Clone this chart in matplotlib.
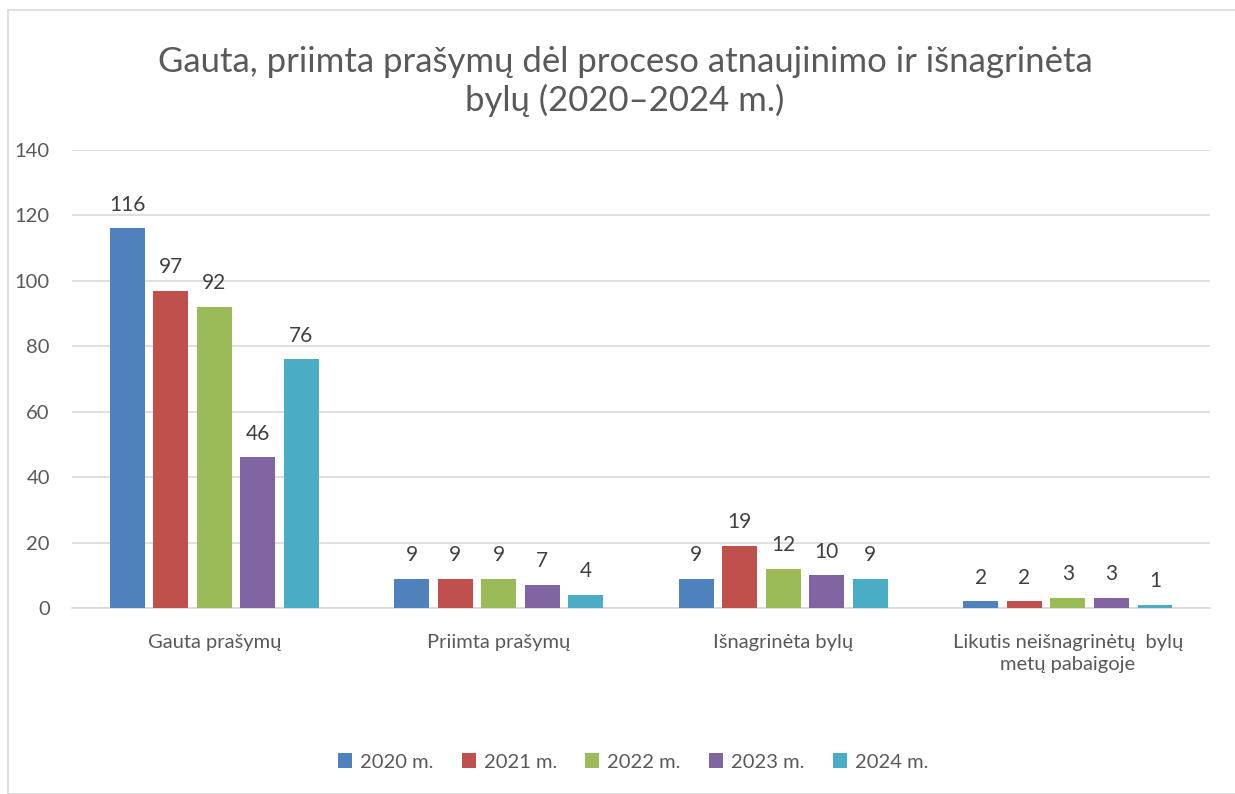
import matplotlib.pyplot as plt
import matplotlib.patches as mpatches
import numpy as np

plt.rcParams['font.family'] = ['Lato', 'DejaVu Sans']

categories = ['Gauta prašymų', 'Priimta prašymų', 'Išnagrinėta bylų',
              'Likutis neišnagrinėtų  bylų\nmetų pabaigoje']
years = ['2020 m.', '2021 m.', '2022 m.', '2023 m.', '2024 m.']
values_2020 = [116, 9, 9, 2]
values_2021 = [97, 9, 19, 2]
values_2022 = [92, 9, 12, 3]
values_2023 = [46, 7, 10, 3]
values_2024 = [76, 4, 9, 1]
series = [values_2020, values_2021, values_2022, values_2023, values_2024]
colors = ['#4F81BD', '#C0504D', '#9BBB59', '#8064A2', '#4BACC6']

text_color = '#595959'
grid_color = '#D9D9D9'

fig = plt.figure(figsize=(12.35, 7.94), dpi=100)
ax = fig.add_axes([0.0583, 0.2343, 0.9215, 0.5768])

# ramka aplink diagramą
fig.patches.append(mpatches.Rectangle((8 / 1235, 0), 1.1, 1 - 10 / 794,
                                      transform=fig.transFigure, fill=False,
                                      edgecolor=grid_color, linewidth=1.2))

x = np.arange(len(categories))
step = 0.153
width = 0.122
for i, (vals, col, lab) in enumerate(zip(series, colors, years)):
    pos = x + (i - 2) * step
    ax.bar(pos, vals, width, color=col, label=lab, zorder=3)
    for p, v in zip(pos, vals):
        ax.text(p, v + 4.2, str(v), ha='center', va='bottom', fontsize=15,
                color='#404040')

ax.set_xlim(-0.5, 3.5)
ax.set_ylim(0, 140)
ax.set_yticks(range(0, 141, 20))
ax.grid(axis='y', color=grid_color, linewidth=1.2, zorder=0)
for s in ['top', 'right', 'left']:
    ax.spines[s].set_visible(False)
ax.spines['bottom'].set_color(grid_color)
ax.spines['bottom'].set_linewidth(1.2)
ax.tick_params(axis='both', length=0, labelsize=14.5, colors=text_color)
ax.tick_params(axis='y', pad=16)
ax.tick_params(axis='x', pad=19)
ax.set_xticks(x)
ax.set_xticklabels(categories, linespacing=1.35)

fig.text(0.506, 0.897, 'Gauta, priimta prašymų dėl proceso atnaujinimo ir išnagrinėta\nbylų (2020–2024 m.)',
         ha='center', va='center', fontsize=25, color=text_color, linespacing=1.22)

ax.legend(loc='upper center', bbox_to_anchor=(0.493, -0.278), ncol=5,
          frameon=False, fontsize=14.5, handlelength=0.7, handleheight=0.7,
          handletextpad=0.4, columnspacing=1.4, labelcolor=text_color)

fig.savefig('out.png', dpi=100)
